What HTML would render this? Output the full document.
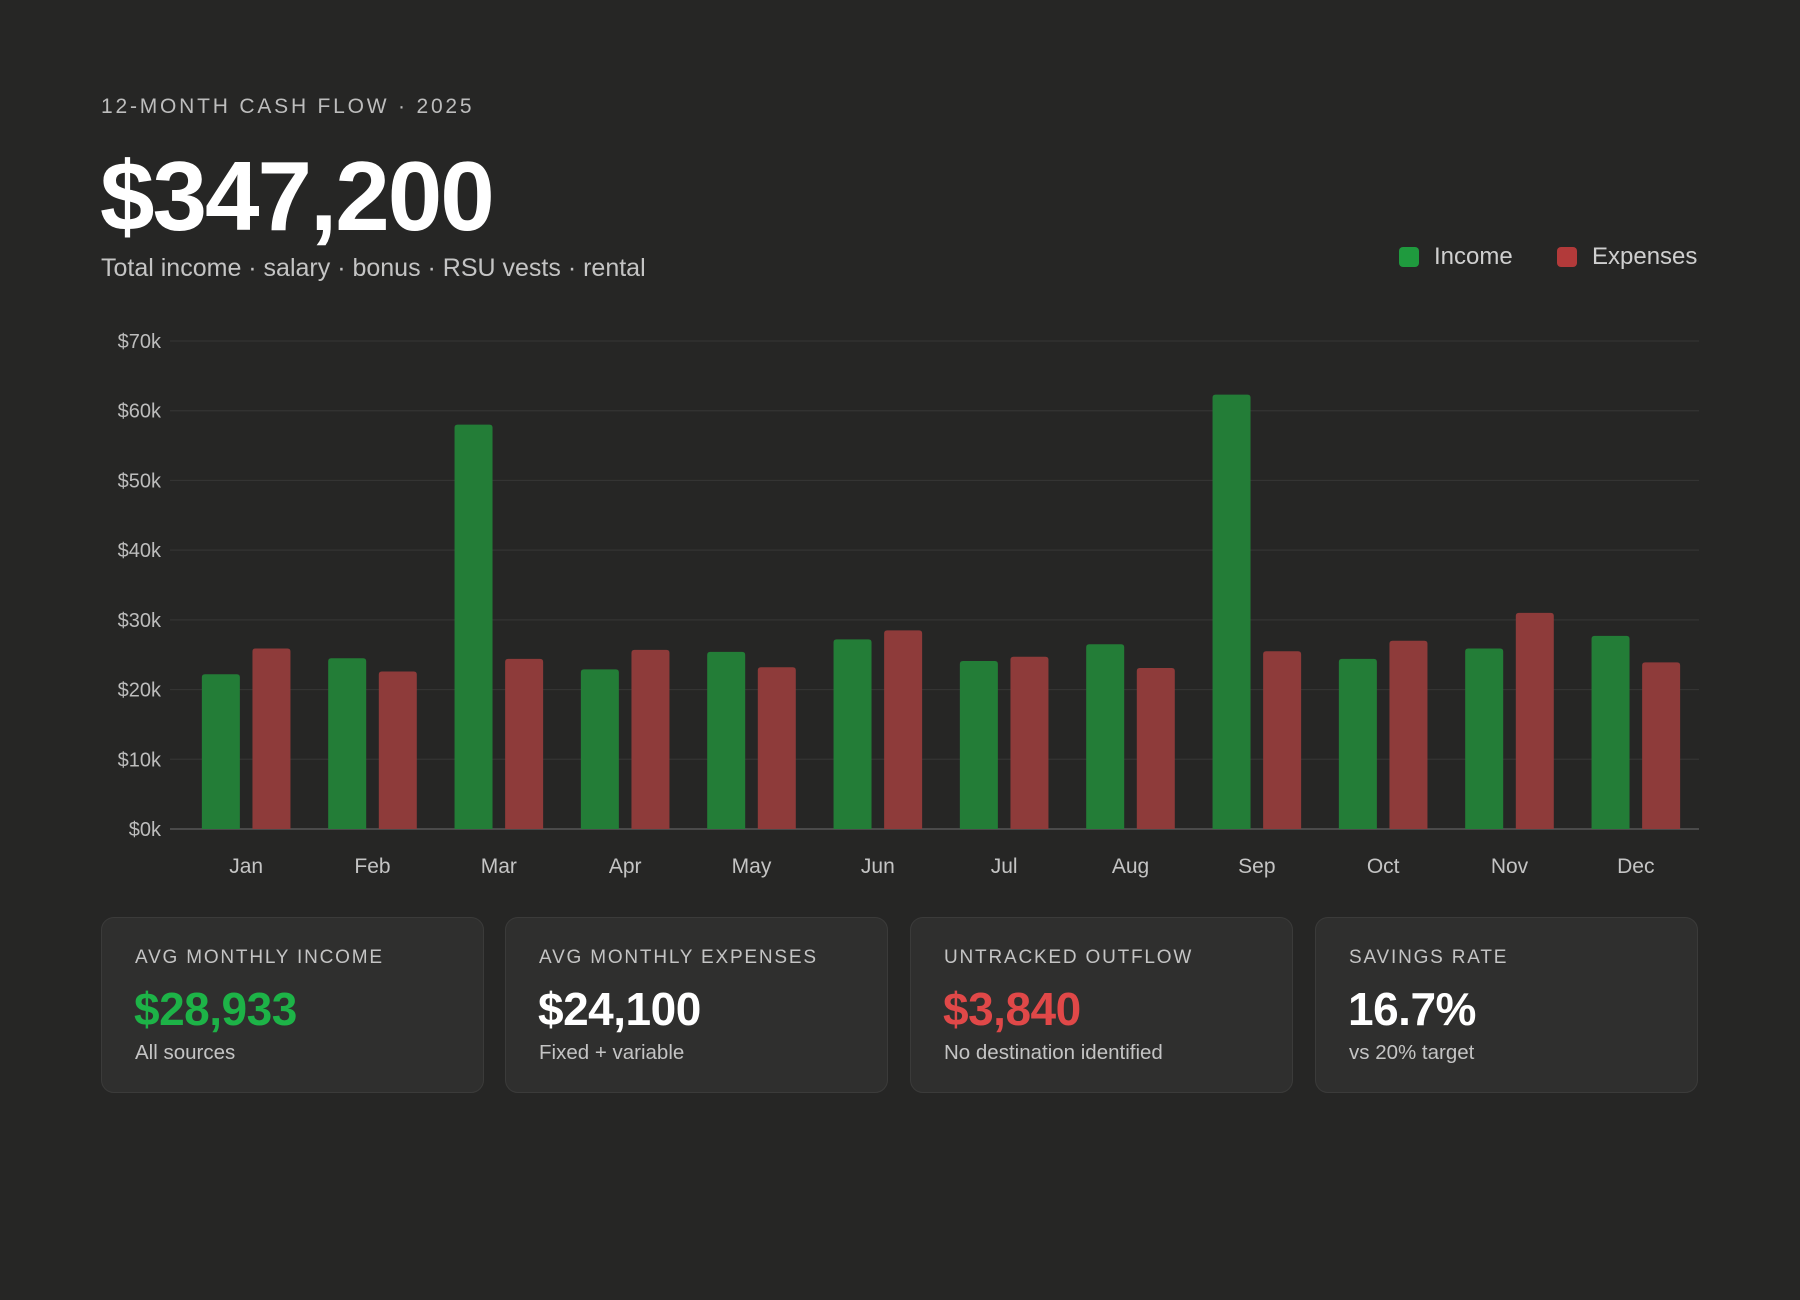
<!DOCTYPE html>
<html><head><meta charset="utf-8"><style>
body{margin:0;width:1800px;height:1300px;background:#262625;font-family:"Liberation Sans",sans-serif;position:relative;overflow:hidden;color:#fff}
.abs{position:absolute;white-space:nowrap}
.card{position:absolute;top:917px;width:383px;height:176px;box-sizing:border-box;background:#2f2f2e;border:1.5px solid #3b3b3a;border-radius:13px}
.cl{position:absolute;left:33px;top:29px;font-size:19px;letter-spacing:1.8px;color:#c4c4c4}
.cv{position:absolute;left:32px;top:64px;font-size:46px;font-weight:bold;letter-spacing:-0.5px}
.cs{position:absolute;left:33px;top:123px;font-size:20.5px;color:#c4c4c4}
</style></head><body>
<div class="abs" style="left:101px;top:95px;font-size:21px;letter-spacing:2.8px;color:#bdbdbd">12-MONTH CASH FLOW · 2025</div>
<div class="abs" style="left:100px;top:140px;font-size:98px;font-weight:bold;letter-spacing:-2px">$347,200</div>
<div class="abs" style="left:101px;top:254px;font-size:25px;color:#c4c4c4">Total income · salary · bonus · RSU vests · rental</div>
<div class="abs" style="left:1399px;top:243px;font-size:24px;color:#cfcfcf"><span style="display:inline-block;width:20px;height:20px;background:#1f9a3e;border-radius:4px;vertical-align:-3px;margin-right:15px"></span>Income</div>
<div class="abs" style="left:1557px;top:243px;font-size:24px;color:#cfcfcf"><span style="display:inline-block;width:20px;height:20px;background:#b23a3a;border-radius:4px;vertical-align:-3px;margin-right:15px"></span>Expenses</div>
<svg id="chart" width="1800" height="900" style="position:absolute;left:0;top:0"></svg>
<div class="card" style="left:101px"><div class="cl">AVG MONTHLY INCOME</div><div class="cv" style="color:#1db347">$28,933</div><div class="cs">All sources</div></div>
<div class="card" style="left:505px"><div class="cl">AVG MONTHLY EXPENSES</div><div class="cv">$24,100</div><div class="cs">Fixed + variable</div></div>
<div class="card" style="left:910px"><div class="cl">UNTRACKED OUTFLOW</div><div class="cv" style="color:#e04848">$3,840</div><div class="cs">No destination identified</div></div>
<div class="card" style="left:1315px"><div class="cl">SAVINGS RATE</div><div class="cv">16.7%</div><div class="cs">vs 20% target</div></div>
<script>
const months=["Jan","Feb","Mar","Apr","May","Jun","Jul","Aug","Sep","Oct","Nov","Dec"];
const income=[22.2,24.5,58.0,22.9,25.4,27.2,24.1,26.5,62.3,24.4,25.9,27.7];
const expenses=[25.9,22.6,24.4,25.7,23.2,28.5,24.7,23.1,25.5,27.0,31.0,23.9];
const yTicks=[0,10,20,30,40,50,60,70];
const ns="http://www.w3.org/2000/svg";
const svg=document.getElementById('chart');
const y0=829,y1=341,vmax=70,gx0=170,gx1=1699,bx0=183,band=(1699-183)/12,bw=38,gap=12.6;
const y=v=>y0-(v/vmax)*(y0-y1);
const xc=i=>bx0+band*(i+0.5);
function mk(t,a){const e=document.createElementNS(ns,t);for(const k in a)e.setAttribute(k,a[k]);svg.appendChild(e);return e;}
yTicks.forEach(t=>{
  const l=mk('line',{x1:gx0,x2:gx1,y1:y(t),y2:y(t),stroke:t===0?'#4a4a4a':'#343433','stroke-width':t===0?2:1.2});
  
  
  const tx=mk('text',{x:161,y:y(t)+7,'text-anchor':'end','font-size':20,fill:'#bdbdbd','font-family':'Liberation Sans, sans-serif'});
  tx.textContent='$'+t+'k';
  
  
});
function bar(x,v,c){
  const r=3;
  return mk('path',{d:`M${x},${y0}V${y(v)+r}Q${x},${y(v)} ${x+r},${y(v)}H${x+bw-r}Q${x+bw},${y(v)} ${x+bw},${y(v)+r}V${y0}Z`,fill:c});
}
months.forEach((m,i)=>{
  const c=xc(i);
  const b1=bar(c-gap/2-bw,income[i],'#237d37');
  
  
  const b2=bar(c+gap/2,expenses[i],'#8e3b3a');
  
  
  const t=mk('text',{x:c,y:873,'text-anchor':'middle','font-size':21,fill:'#c4c4c4','font-family':'Liberation Sans, sans-serif'});
  t.textContent=m;
  
  
});
</script>
</body></html>
